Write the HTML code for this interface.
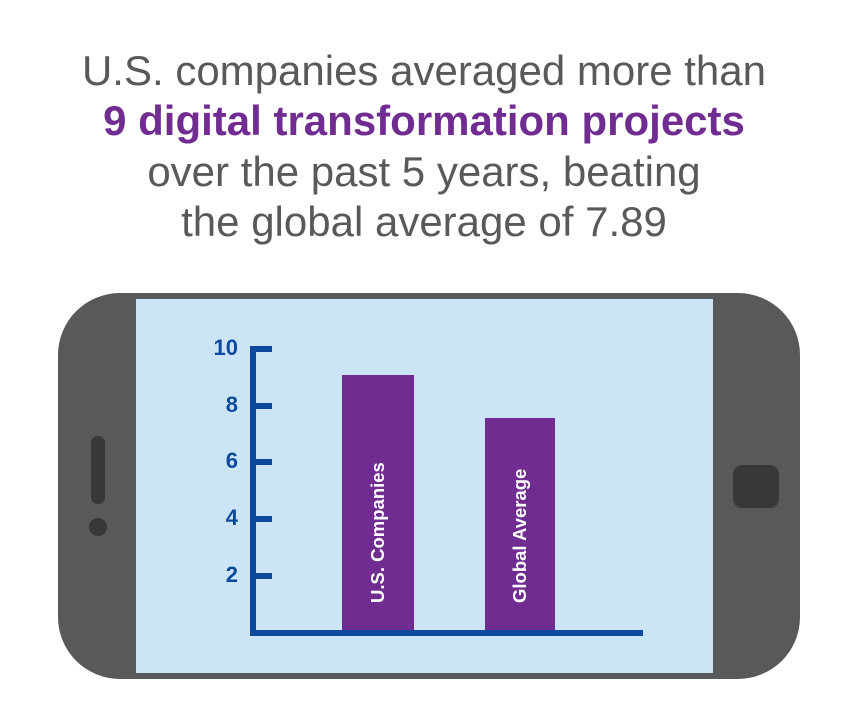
<!DOCTYPE html>
<html><head><style>
body{margin:0;width:848px;height:719px;background:#fff;overflow:hidden;position:relative;font-family:"Liberation Sans",Arial,sans-serif}
.t{position:absolute;left:0;width:848px;text-align:center;font-size:42px;color:#58595b;line-height:50px}
.a{position:absolute}
.lbl{position:absolute;color:#0d4a9e;font-weight:bold;font-size:22px;text-align:right;width:44px;left:194px}
.tk{position:absolute;left:250px;width:22px;height:6px;background:#0d4a9e}
.bar{position:absolute;background:#702c91}
.bt{position:absolute;color:#fff;font-weight:bold;font-size:18.5px;white-space:nowrap;transform:rotate(-90deg);transform-origin:left top}
</style></head><body>
<div class="t" style="top:46px">U.S. companies averaged more than</div>
<div class="t" style="top:96px;color:#702c91;font-weight:bold">9 digital transformation projects</div>
<div class="t" style="top:147px">over the past 5 years, beating</div>
<div class="t" style="top:197px">the global average of 7.89</div>

<div class="a" style="left:58px;top:293px;width:742px;height:386px;background:#58595b;border-radius:62px"></div>
<div class="a" style="left:136px;top:299px;width:577px;height:374px;background:#cbe5f6"></div>
<div class="a" style="left:91px;top:436px;width:14px;height:68px;background:#38383a;border-radius:7px"></div>
<div class="a" style="left:89px;top:518px;width:18px;height:18px;background:#38383a;border-radius:50%"></div>
<div class="a" style="left:733px;top:465px;width:46px;height:43px;background:#38383a;border-radius:9px"></div>

<div class="bar" style="left:342px;top:375px;width:72px;height:257px"></div>
<div class="bar" style="left:485px;top:418px;width:70px;height:214px"></div>
<div class="bt" style="left:367px;top:603px">U.S. Companies</div>
<div class="bt" style="left:509px;top:603px">Global Average</div>

<div class="a" style="left:250px;top:346px;width:6px;height:290px;background:#0d4a9e"></div>
<div class="a" style="left:250px;top:630px;width:393px;height:6px;background:#0d4a9e"></div>
<div class="tk" style="top:346px"></div>
<div class="tk" style="top:403px"></div>
<div class="tk" style="top:459px"></div>
<div class="tk" style="top:516px"></div>
<div class="tk" style="top:573px"></div>
<div class="lbl" style="top:335px">10</div>
<div class="lbl" style="top:392px">8</div>
<div class="lbl" style="top:448px">6</div>
<div class="lbl" style="top:505px">4</div>
<div class="lbl" style="top:562px">2</div>
</body></html>
